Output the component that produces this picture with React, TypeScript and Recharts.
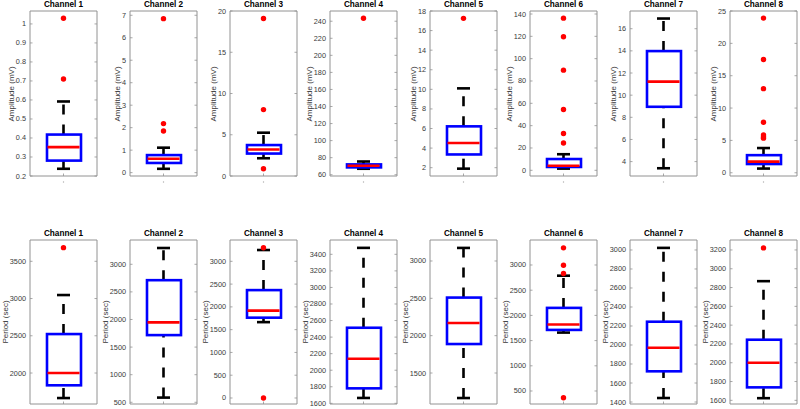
import React from 'react';
import { ComposedChart, Bar, Scatter, XAxis, YAxis } from 'recharts';

const channels = ['Channel 1', 'Channel 2', 'Channel 3', 'Channel 4', 'Channel 5', 'Channel 6', 'Channel 7', 'Channel 8'];

// amplitude (mV) boxes, top row
const ampLow = [0.238, 0.17, 2.15, 67, 1.9, 1.5, 3.4, 0.65];
const ampQ1 = [0.281, 0.43, 2.72, 68.6, 3.35, 3.0, 8.95, 1.35];
const ampMedian = [0.352, 0.62, 3.22, 70.5, 4.52, 4.1, 11.22, 1.72];
const ampQ3 = [0.418, 0.78, 3.75, 72.1, 6.22, 10.1, 13.98, 2.72];
const ampHigh = [0.592, 1.11, 5.25, 75.5, 10.1, 14.4, 16.92, 3.82];
const ampOutliers = [
  [1.03, 0.71],
  [6.85, 2.18, 1.85],
  [19.1, 8.05, 0.88],
  [243.5],
  [17.25],
  [136.3, 119.7, 89.7, 54.5, 33, 24.5],
  [],
  [23.9, 17.5, 13, 7.8, 5.85, 5.55, 5.35],
];
const ampDomains = [[0.2, 1.068], [-0.15, 7.19], [0, 20], [58.5, 252], [1.15, 18], [-5.1, 142.7], [2.7, 17.6], [-0.5, 25]];
const ampTicks = [
  [0.2, 0.3, 0.4, 0.5, 0.6, 0.7, 0.8, 0.9, 1],
  [0, 1, 2, 3, 4, 5, 6, 7],
  [0, 5, 10, 15, 20],
  [60, 80, 100, 120, 140, 160, 180, 200, 220, 240],
  [2, 4, 6, 8, 10, 12, 14, 16, 18],
  [0, 20, 40, 60, 80, 100, 120, 140],
  [4, 6, 8, 10, 12, 14, 16],
  [0, 5, 10, 15, 20, 25],
];

// period (sec) boxes, bottom row
const perLow = [1664, 585, 1665, 1665, 1165, 1659, 1442, 1623];
const perQ1 = [1835, 1717, 1763, 1781, 1888, 1712, 1723, 1738];
const perMedian = [2000, 1947, 1917, 2139, 2170, 1819, 1971, 2000];
const perQ3 = [2523, 2712, 2368, 2513, 2510, 2149, 2245, 2245];
const perHigh = [3047, 3295, 3248, 3478, 3175, 2788, 3022, 2868];
const perOutliers = [[3683], [], [3298, 0], [], [], [3340, 2995, 2830, 365], [], [3222]];
const perDomains = [[1584, 3786], [469, 3440], [-132, 3468], [1592, 3573], [1085, 3281], [242, 3496], [1379, 3105], [1561, 3306]];
const perTicks = [
  [2000, 2500, 3000, 3500],
  [500, 1000, 1500, 2000, 2500, 3000],
  [0, 500, 1000, 1500, 2000, 2500, 3000],
  [1600, 1800, 2000, 2200, 2400, 2600, 2800, 3000, 3200, 3400],
  [1500, 2000, 2500, 3000],
  [500, 1000, 1500, 2000, 2500, 3000],
  [1400, 1600, 1800, 2000, 2200, 2400, 2600, 2800, 3000],
  [1600, 1800, 2000, 2200, 2400, 2600, 2800, 3000, 3200],
];

const FONT = '"Liberation Sans", Arial, Helvetica, sans-serif';
const FRAME = '#929292';
const TEXT = '#3a3a3a';
const LW = 2.6;

function textWidth(s: string) {
  let w = 0;
  for (const c of s) w += c === '.' ? 2 : c === '-' ? 2.4 : 4.05;
  return w;
}

function LeftTick(props: any) {
  const { x, y, payload } = props;
  return (
    <g>
      <text x={x} y={y} dy={2.5} textAnchor="end" fontSize={7.3} fontFamily={FONT} fill={TEXT}>
        {payload.value}
      </text>
      <line x1={x + 4} x2={x + 6.5} y1={y} y2={y} stroke={FRAME} strokeWidth={0.8} />
    </g>
  );
}

function RightTick(props: any) {
  const { x, y } = props;
  return <line x1={x} x2={x - 2.5} y1={y} y2={y} stroke={FRAME} strokeWidth={0.8} />;
}

function BottomTick(props: any) {
  const { x, y } = props;
  return (
    <g>
      <line x1={x} x2={x} y1={y} y2={y - 2.5} stroke={FRAME} strokeWidth={0.8} />
      <circle cx={x} cy={y + 6} r={0.7} fill="#b0b0b0" />
    </g>
  );
}

function BoxShape(props: any) {
  const { x, y, width, height } = props;
  return <rect x={x} y={y} width={width} height={height} fill="none" stroke="#0000ff" strokeWidth={LW} />;
}

function UpperWhisker(props: any) {
  const { x, y, width, height } = props;
  const cx = x + width / 2;
  return (
    <g>
      <line x1={cx} x2={cx} y1={y + height} y2={y} stroke="#000" strokeWidth={LW} strokeDasharray="10 10" />
      <line x1={x} x2={x + width} y1={y} y2={y} stroke="#000" strokeWidth={LW} />
    </g>
  );
}

function LowerWhisker(props: any) {
  const { x, y, width, height } = props;
  const cx = x + width / 2;
  return (
    <g>
      <line x1={cx} x2={cx} y1={y + height} y2={y} stroke="#000" strokeWidth={LW} strokeDasharray="10 10" />
      <line x1={x} x2={x + width} y1={y + height} y2={y + height} stroke="#000" strokeWidth={LW} />
    </g>
  );
}

interface PanelProps {
  title: string;
  yLabel: string;
  low: number;
  q1: number;
  median: number;
  q3: number;
  high: number;
  outliers: number[];
  domain: number[];
  ticks: number[];
  left: number;
  top: number;
  width: number;
  height: number;
}

function BoxPanel(p: PanelProps) {
  const row: Record<string, any> = { name: '1', box: [p.q1, p.q3], upper: [p.q3, p.high], lower: [p.low, p.q1], med: p.median };
  p.outliers.forEach((v, k) => {
    row['o' + k] = v;
  });
  const rows = [row];
  const boxW = Math.round(p.width / 2);
  const capW = 13;
  const axisW = 30;
  const chartW = p.width + axisW + 3;
  const chartH = p.height + 15;
  const tickW = Math.max(...p.ticks.map((t) => textWidth(String(t))));
  const labelX = p.left - 4 - tickW - 4;

  return (
    <>
      <div
        style={{
          position: 'absolute',
          left: p.left + p.width / 2,
          top: p.top - 6,
          transform: 'translate(-50%, -50%)',
          fontFamily: FONT,
          fontWeight: 'bold',
          fontSize: 8.2,
          color: '#000',
          whiteSpace: 'nowrap',
          lineHeight: 1,
        }}
      >
        {p.title}
      </div>
      <div
        style={{
          position: 'absolute',
          left: labelX,
          top: p.top + p.height / 2,
          transform: 'translate(-50%, -50%) rotate(-90deg)',
          fontFamily: FONT,
          fontSize: 8,
          color: TEXT,
          whiteSpace: 'nowrap',
          lineHeight: 1,
        }}
      >
        {p.yLabel}
      </div>
      <div style={{ position: 'absolute', left: p.left - axisW, top: p.top - 3 }}>
        <ComposedChart width={chartW} height={chartH} data={rows} margin={{ top: 2, right: 2, bottom: 0, left: 0 }}>
          <XAxis
            xAxisId="b"
            dataKey="name"
            allowDuplicatedCategory={false}
            height={12}
            interval={0}
            tickSize={0}
            tickMargin={0}
            tickLine={false}
            axisLine={{ stroke: FRAME }}
            tick={(t: any) => <BottomTick {...t} />}
          />
          <XAxis xAxisId="t" orientation="top" dataKey="name" allowDuplicatedCategory={false} height={1} tick={false} tickLine={false} axisLine={{ stroke: FRAME }} />
          <XAxis xAxisId="u" dataKey="name" allowDuplicatedCategory={false} hide />
          <XAxis xAxisId="l" dataKey="name" allowDuplicatedCategory={false} hide />
          <YAxis
            yAxisId="y"
            type="number"
            domain={p.domain}
            ticks={p.ticks}
            allowDataOverflow
            interval={0}
            width={axisW}
            tickSize={0}
            tickMargin={4}
            tickLine={false}
            axisLine={{ stroke: FRAME }}
            tick={(t: any) => <LeftTick {...t} />}
          />
          <YAxis
            yAxisId="r"
            orientation="right"
            type="number"
            domain={p.domain}
            ticks={p.ticks}
            allowDataOverflow
            interval={0}
            width={1}
            tickSize={0}
            tickMargin={0}
            tickLine={false}
            axisLine={{ stroke: FRAME }}
            tick={(t: any) => <RightTick {...t} />}
          />
          <Bar xAxisId="u" yAxisId="y" dataKey="upper" barSize={capW} shape={(s: any) => <UpperWhisker {...s} />} isAnimationActive={false} />
          <Bar xAxisId="l" yAxisId="y" dataKey="lower" barSize={capW} shape={(s: any) => <LowerWhisker {...s} />} isAnimationActive={false} />
          <Bar xAxisId="b" yAxisId="y" dataKey="box" barSize={boxW} shape={(s: any) => <BoxShape {...s} />} isAnimationActive={false} />
          <Scatter
            xAxisId="b"
            yAxisId="y"
            dataKey="med"
            isAnimationActive={false}
            shape={(s: any) => (
              <line x1={s.cx - boxW / 2 + 1} x2={s.cx + boxW / 2 - 1} y1={s.cy} y2={s.cy} stroke="#ff0000" strokeWidth={LW} />
            )}
          />
          {p.outliers.map((_, k) => (
            <Scatter
              key={k}
              xAxisId="b"
              yAxisId="y"
              dataKey={'o' + k}
              isAnimationActive={false}
              shape={(s: any) => <circle cx={s.cx} cy={s.cy} r={2.7} fill="#ff0000" />}
            />
          ))}
        </ComposedChart>
      </div>
    </>
  );
}

function panelLeft(i: number) {
  return Math.floor(i / 2) * 200 + (i % 2 === 0 ? 30 : 130);
}

export default function App() {
  return (
    <div style={{ position: 'absolute', left: 0, top: 0, width: 800, height: 409, background: '#fff', overflow: 'hidden' }}>
      {channels.map((c, i) => (
        <BoxPanel
          key={'a' + i}
          title={c}
          yLabel="Amplitude (mV)"
          low={ampLow[i]}
          q1={ampQ1[i]}
          median={ampMedian[i]}
          q3={ampQ3[i]}
          high={ampHigh[i]}
          outliers={ampOutliers[i]}
          domain={ampDomains[i]}
          ticks={ampTicks[i]}
          left={panelLeft(i)}
          top={11}
          width={67}
          height={165}
        />
      ))}
      {channels.map((c, i) => (
        <BoxPanel
          key={'p' + i}
          title={c}
          yLabel="Period (sec)"
          low={perLow[i]}
          q1={perQ1[i]}
          median={perMedian[i]}
          q3={perQ3[i]}
          high={perHigh[i]}
          outliers={perOutliers[i]}
          domain={perDomains[i]}
          ticks={perTicks[i]}
          left={panelLeft(i)}
          top={240}
          width={67}
          height={164}
        />
      ))}
    </div>
  );
}
